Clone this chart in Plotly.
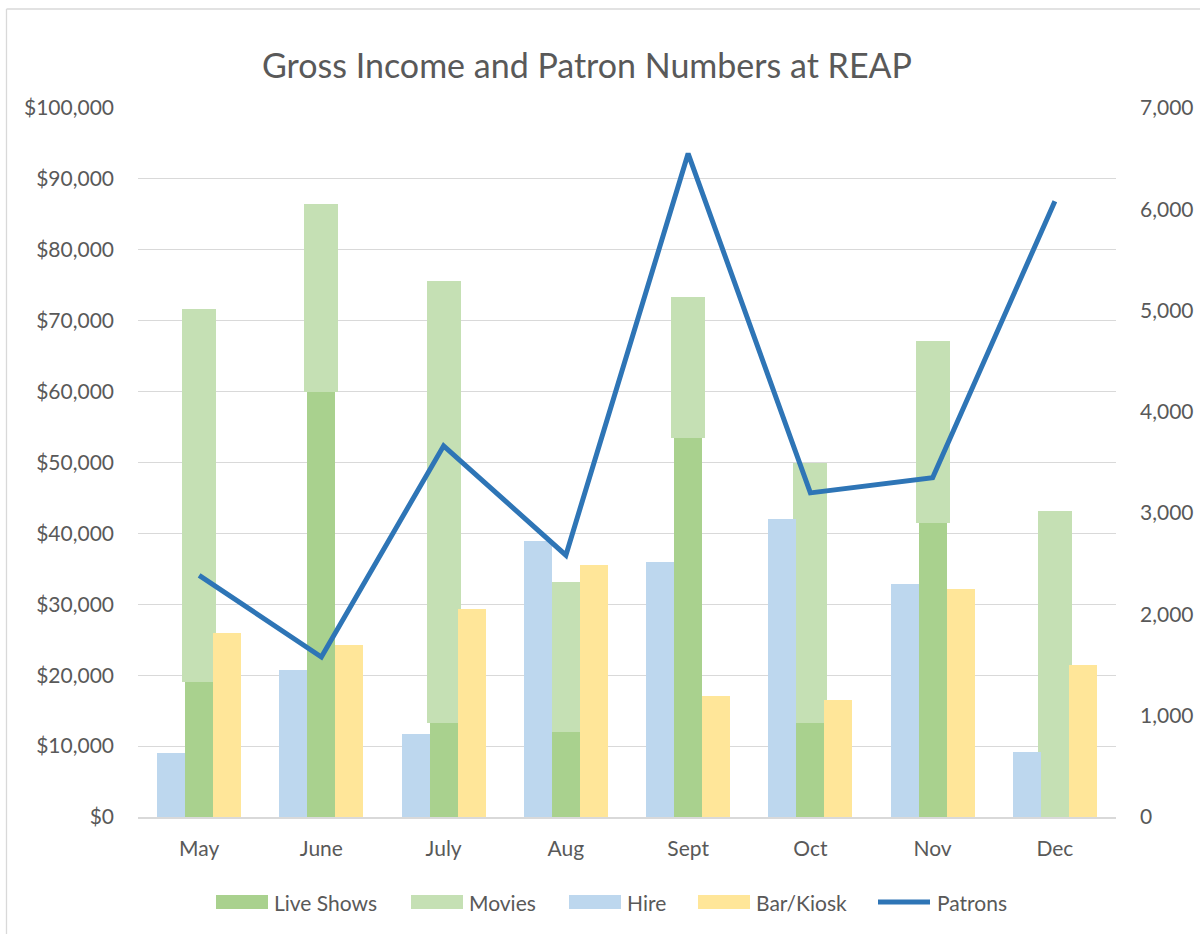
import plotly.graph_objects as go

months = ["May", "June", "July", "Aug", "Sept", "Oct", "Nov", "Dec"]
live_shows = [19000, 60000, 13300, 12000, 53400, 13200, 41400, 0]
movies = [52700, 26400, 62300, 21100, 20000, 36700, 25700, 43200]
hire = [9000, 20700, 11700, 38900, 36000, 42100, 32800, 9200]
bar_kiosk = [26000, 24200, 29400, 35500, 17100, 16500, 32100, 21500]
patrons = [2385, 1580, 3665, 2585, 6550, 3200, 3350, 6080]

income_ticks = [0, 10000, 20000, 30000, 40000, 50000, 60000, 70000, 80000, 90000, 100000]
income_labels = ["$0", "$10,000", "$20,000", "$30,000", "$40,000", "$50,000",
                 "$60,000", "$70,000", "$80,000", "$90,000", "$100,000"]
patron_ticks = [0, 1000, 2000, 3000, 4000, 5000, 6000, 7000]
patron_labels = ["0", "1,000", "2,000", "3,000", "4,000", "5,000", "6,000", "7,000"]

C_LIVE = "#A9D18E"
C_MOVIES = "#C5E0B4"
C_HIRE = "#BDD7EE"
C_BAR = "#FFE699"
C_PAT = "#2E75B6"
TXT = "#595959"
GRID = "#D9D9D9"
FONT = "Lato, Carlito, Calibri, sans-serif"

fig = go.Figure()

# Movies drawn first (behind), stacked on top of Live Shows
fig.add_trace(go.Bar(
    x=months, y=movies, base=live_shows, name="Movies",
    marker=dict(color=C_MOVIES, line=dict(width=0)),
    offset=-0.139, width=0.278, showlegend=False))
fig.add_trace(go.Bar(
    x=months, y=hire, name="Hire",
    marker=dict(color=C_HIRE, line=dict(width=0)),
    offset=-0.344, width=0.229, showlegend=False))
fig.add_trace(go.Bar(
    x=months, y=live_shows, name="Live Shows",
    marker=dict(color=C_LIVE, line=dict(width=0)),
    offset=-0.115, width=0.229, showlegend=False))
fig.add_trace(go.Bar(
    x=months, y=bar_kiosk, name="Bar/Kiosk",
    marker=dict(color=C_BAR, line=dict(width=0)),
    offset=0.115, width=0.229, showlegend=False))
fig.add_trace(go.Scatter(
    x=months, y=patrons, name="Patrons", yaxis="y2", mode="lines",
    line=dict(color=C_PAT, width=5), showlegend=False))

# layout in page pixels
L, R, T, B = 138, 1116, 108, 817
W, H = 1200, 934
def px_x(p):
    return (p - L) / (R - L)
def px_y(p):
    return (B - p) / (B - T)

# outer chart border: only left and top edges are visible in the reference
shapes = [
    dict(type="line", xref="paper", yref="paper",
         x0=px_x(6.5), x1=px_x(6.5), y0=px_y(H), y1=px_y(9),
         line=dict(color=GRID, width=1.3), layer="below"),
    dict(type="line", xref="paper", yref="paper",
         x0=px_x(6.5), x1=px_x(W), y0=px_y(9), y1=px_y(9),
         line=dict(color=GRID, width=1.3), layer="below"),
]
annotations = []

# legend (Excel-style wide swatches)
legend_names = ["Live Shows", "Movies", "Hire", "Bar/Kiosk", "Patrons"]
legend_colors = [C_LIVE, C_MOVIES, C_HIRE, C_BAR, C_PAT]
legend_kind = ["bar", "bar", "bar", "bar", "line"]
swatch_x0 = [216, 411, 569, 698, 876]
LEG_Y = 902
for name, col, kind, sx in zip(legend_names, legend_colors, legend_kind, swatch_x0):
    if kind == "bar":
        shapes.append(dict(type="rect", xref="paper", yref="paper",
                           x0=px_x(sx), x1=px_x(sx + 52),
                           y0=px_y(LEG_Y + 7), y1=px_y(LEG_Y - 7),
                           fillcolor=col, line=dict(width=0)))
        tx = sx + 56
    else:
        shapes.append(dict(type="line", xref="paper", yref="paper",
                           x0=px_x(sx + 2), x1=px_x(sx + 54),
                           y0=px_y(LEG_Y), y1=px_y(LEG_Y),
                           line=dict(color=col, width=5)))
        tx = sx + 59
    annotations.append(dict(
        text=name, xref="paper", yref="paper", x=px_x(tx), y=px_y(LEG_Y),
        xanchor="left", yanchor="middle", showarrow=False,
        font=dict(family=FONT, size=21, color=TXT)))

fig.update_layout(
    width=W, height=H,
    autosize=False,
    barmode="overlay",
    bargap=0,
    showlegend=False,
    paper_bgcolor="white",
    plot_bgcolor="white",
    margin=dict(l=L, r=W - R, t=T, b=H - B, pad=0, autoexpand=False),
    font=dict(family=FONT, color=TXT, size=21),
    title=dict(
        text="Gross Income and Patron Numbers at REAP",
        x=587 / W, xref="container", xanchor="center",
        y=1 - 66 / H, yref="container", yanchor="middle",
        font=dict(family=FONT, size=34, color=TXT)),
    xaxis=dict(
        type="category",
        showgrid=False, automargin=False,
        showline=True, linecolor=GRID, linewidth=1.5,
        ticks="", ticklabelstandoff=12,
        tickfont=dict(size=21, color=TXT),
        fixedrange=True),
    yaxis=dict(
        range=[0, 100000], automargin=False,
        tickvals=income_ticks, ticktext=income_labels,
        showgrid=True, gridcolor=GRID, gridwidth=1.3,
        zeroline=False, showline=False, ticks="",
        ticklabelstandoff=23,
        tickfont=dict(size=21, color=TXT)),
    yaxis2=dict(
        range=[0, 7000], overlaying="y", side="right", automargin=False,
        tickvals=patron_ticks, ticktext=patron_labels,
        showgrid=False, zeroline=False, showline=False, ticks="",
        ticklabelstandoff=23,
        tickfont=dict(size=21, color=TXT)),
    shapes=shapes,
    annotations=annotations,
)

fig.write_html("out.html", config={"displayModeBar": False},
               post_script="document.body.style.margin='0';")
